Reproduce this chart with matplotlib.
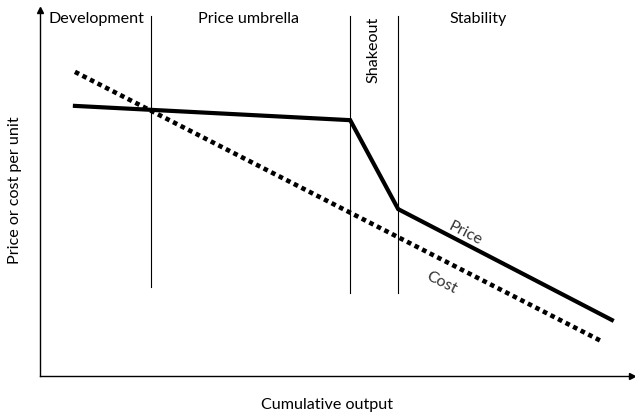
import matplotlib.pyplot as plt

# stage boundaries and curves, in arbitrary 0-100 units
stage_x = [18.75, 52.4, 60.5]
stage_top = 98.4
stage_bottom = [24.3, 22.7, 22.7]
stage_names = ['Development', 'Price umbrella', 'Shakeout', 'Stability']

price_x = [5.9, 52.4, 60.5, 96.6]
price_y = [73.8, 69.9, 45.6, 15.3]
cost_x = [5.9, 95.1]
cost_y = [83.1, 9.3]

plt.rcParams['font.family'] = ['Lato', 'DejaVu Sans']
fs = 11.6

fig = plt.figure(figsize=(6.35, 4.15), dpi=100)
ax = fig.add_axes([40/635, 39/415, 592/635, 366/415])
ax.set_xlim(0, 100)
ax.set_ylim(0, 100)
for s in ['top', 'right']:
    ax.spines[s].set_visible(False)
for s in ['left', 'bottom']:
    ax.spines[s].set_linewidth(1.0)
ax.set_xticks([])
ax.set_yticks([])

# axis arrows
ax.plot([0], [100], marker='^', color='black', ms=5, clip_on=False)
ax.plot([100], [0], marker='>', color='black', ms=5, clip_on=False)

for x, b in zip(stage_x, stage_bottom):
    ax.plot([x, x], [b, stage_top], color='black', lw=0.8)

ax.plot(cost_x, cost_y, color='black', lw=3.3, linestyle=(0, (1, 0.85)),
        dash_capstyle='butt')
ax.plot(price_x, price_y, color='black', lw=3.0, solid_joinstyle='miter')

ax.text(1.5, 97.5, stage_names[0], fontsize=fs, va='center', ha='left')
ax.text(35.3, 97.5, stage_names[1], fontsize=fs, va='center', ha='center')
ax.text(56.4, 89.2, stage_names[2], fontsize=fs, va='center', ha='center',
        rotation=90)
ax.text(74.0, 97.5, stage_names[3], fontsize=fs, va='center', ha='center')

ax.text(71.8, 39.0, 'Price', fontsize=fs, va='center', ha='center',
        rotation=-27, color='#333333')
ax.text(67.9, 25.5, 'Cost', fontsize=fs, va='center', ha='center',
        rotation=-27, color='#333333')

fig.text(327/635, 1 - 405/415, 'Cumulative output', fontsize=fs,
         ha='center', va='center')
fig.text(15/635, 1 - 190/415, 'Price or cost per unit', fontsize=fs,
         ha='center', va='center', rotation=90)

fig.savefig('out.png', dpi=100)
